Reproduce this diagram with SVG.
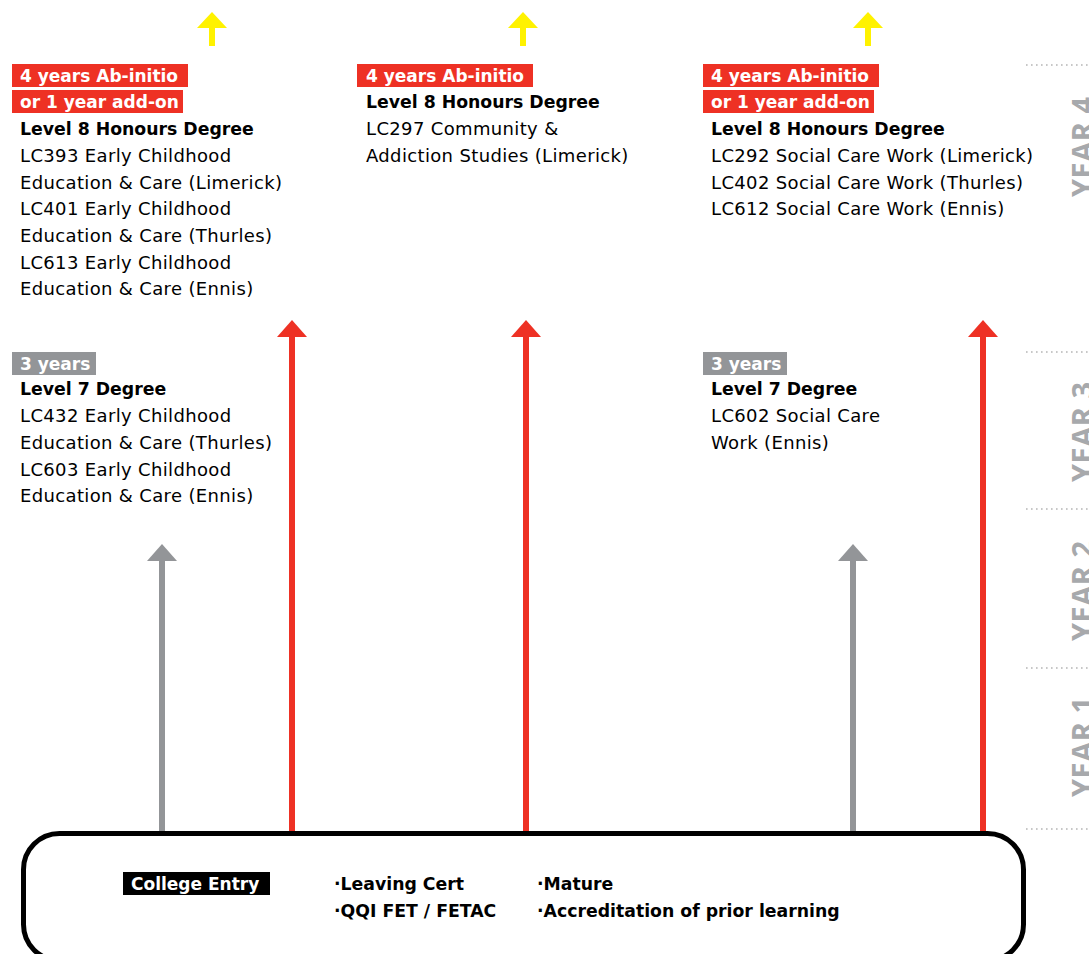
<svg xmlns="http://www.w3.org/2000/svg" width="1089" height="954" viewBox="0 0 1089 954">
<style>
  .txt { font-family: "DejaVu Sans", "Liberation Sans", sans-serif; font-size: 18px; letter-spacing: 0.35px; fill: #000; }
  .bold { font-family: "DejaVu Sans", "Liberation Sans", sans-serif; font-size: 17.3px; font-weight: bold; fill: #000; }
  .tagt { font-family: "DejaVu Sans", "Liberation Sans", sans-serif; font-size: 17px; font-weight: bold; fill: #fff; }
  .red { fill: #ee3124; }
  .grey { fill: #939598; }
  .year { font-family: "Open Sans", "DejaVu Sans", sans-serif; font-size: 29px; font-weight: bold; fill: #a7a9ac; letter-spacing: 0.5px; }
  .dots { stroke: #b5b5b5; stroke-width: 1.6; stroke-dasharray: 1.6 3.4; fill: none; }
  .shaft-red { stroke: #ee3124; stroke-width: 6; }
  .shaft-grey { stroke: #939598; stroke-width: 6; }
  .shaft-yel { stroke: #fff200; stroke-width: 6; }
</style>

<!-- year scale -->
<g id="year-scale">
  <line class="dots" x1="1026" y1="65" x2="1089" y2="65"/>
  <line class="dots" x1="1026" y1="352" x2="1089" y2="352"/>
  <line class="dots" x1="1026" y1="509" x2="1089" y2="509"/>
  <line class="dots" x1="1026" y1="668" x2="1089" y2="668"/>
  <line class="dots" x1="1026" y1="829" x2="1089" y2="829"/>
  <text class="year" transform="translate(1093,197) rotate(-90)">YEAR 4</text>
  <text class="year" transform="translate(1093,482) rotate(-90)">YEAR 3</text>
  <text class="year" transform="translate(1093,641) rotate(-90)">YEAR 2</text>
  <text class="year" transform="translate(1093,797) rotate(-90)">YEAR 1</text>
</g>

<!-- connectors -->
<g id="connectors">
  <!-- yellow arrows -->
  <line class="shaft-yel" x1="212" y1="26" x2="212" y2="46"/>
  <polygon fill="#fff200" points="212,12 227,28 197,28"/>
  <line class="shaft-yel" x1="523" y1="26" x2="523" y2="46"/>
  <polygon fill="#fff200" points="523,12 538,28 508,28"/>
  <line class="shaft-yel" x1="868" y1="26" x2="868" y2="46"/>
  <polygon fill="#fff200" points="868,12 883,28 853,28"/>
  <!-- red arrows -->
  <line class="shaft-red" x1="292" y1="334" x2="292" y2="834"/>
  <polygon class="red" points="292,320 307,337 277,337"/>
  <line class="shaft-red" x1="526" y1="334" x2="526" y2="834"/>
  <polygon class="red" points="526,320 541,337 511,337"/>
  <line class="shaft-red" x1="983" y1="334" x2="983" y2="834"/>
  <polygon class="red" points="983,320 998,337 968,337"/>
  <!-- grey arrows -->
  <line class="shaft-grey" x1="162" y1="558" x2="162" y2="834"/>
  <polygon class="grey" points="162,544 177,561 147,561"/>
  <line class="shaft-grey" x1="853" y1="558" x2="853" y2="834"/>
  <polygon class="grey" points="853,544 868,561 838,561"/>
</g>

<!-- Level 8 left -->
<g id="l8-ecec">
  <rect class="red" x="12" y="64" width="176" height="23"/>
  <text class="tagt" x="20" y="82">4 years Ab-initio</text>
  <rect class="red" x="12" y="90" width="171" height="23"/>
  <text class="tagt" x="20" y="108">or 1 year add-on</text>
  <text class="bold" x="20" y="135">Level 8 Honours Degree</text>
  <text class="txt" x="20" y="162">LC393 Early Childhood</text>
  <text class="txt" x="20" y="188.5">Education &amp; Care (Limerick)</text>
  <text class="txt" x="20" y="215">LC401 Early Childhood</text>
  <text class="txt" x="20" y="242">Education &amp; Care (Thurles)</text>
  <text class="txt" x="20" y="268.5">LC613 Early Childhood</text>
  <text class="txt" x="20" y="295">Education &amp; Care (Ennis)</text>
</g>

<!-- Level 8 middle -->
<g id="l8-community">
  <rect class="red" x="357" y="64" width="176" height="23"/>
  <text class="tagt" x="366" y="82">4 years Ab-initio</text>
  <text class="bold" x="366" y="108">Level 8 Honours Degree</text>
  <text class="txt" x="366" y="135">LC297 Community &amp;</text>
  <text class="txt" x="366" y="162">Addiction Studies (Limerick)</text>
</g>

<!-- Level 8 right -->
<g id="l8-social">
  <rect class="red" x="703" y="64" width="176" height="23"/>
  <text class="tagt" x="711" y="82">4 years Ab-initio</text>
  <rect class="red" x="703" y="90" width="171" height="23"/>
  <text class="tagt" x="711" y="108">or 1 year add-on</text>
  <text class="bold" x="711" y="135">Level 8 Honours Degree</text>
  <text class="txt" x="711" y="162">LC292 Social Care Work (Limerick)</text>
  <text class="txt" x="711" y="188.5">LC402 Social Care Work (Thurles)</text>
  <text class="txt" x="711" y="215">LC612 Social Care Work (Ennis)</text>
</g>

<!-- Level 7 left -->
<g id="l7-ecec">
  <rect class="grey" x="12" y="352" width="84" height="23"/>
  <text class="tagt" x="20" y="370">3 years</text>
  <text class="bold" x="20" y="395">Level 7 Degree</text>
  <text class="txt" x="20" y="422">LC432 Early Childhood</text>
  <text class="txt" x="20" y="449">Education &amp; Care (Thurles)</text>
  <text class="txt" x="20" y="475.5">LC603 Early Childhood</text>
  <text class="txt" x="20" y="502">Education &amp; Care (Ennis)</text>
</g>

<!-- Level 7 right -->
<g id="l7-social">
  <rect class="grey" x="703" y="352" width="84" height="23"/>
  <text class="tagt" x="711" y="370">3 years</text>
  <text class="bold" x="711" y="395">Level 7 Degree</text>
  <text class="txt" x="711" y="422">LC602 Social Care</text>
  <text class="txt" x="711" y="449">Work (Ennis)</text>
</g>

<!-- College entry -->
<g id="college-entry">
  <rect x="23.5" y="833.5" width="1000" height="127" rx="36" ry="36" fill="#fff" stroke="#000" stroke-width="5"/>
  <rect x="123" y="872" width="147" height="23" fill="#000"/>
  <text class="tagt" x="131" y="890">College Entry</text>
  <text class="bold" x="334" y="890">·Leaving Cert</text>
  <text class="bold" x="334" y="917">·QQI FET / FETAC</text>
  <text class="bold" x="537" y="890">·Mature</text>
  <text class="bold" x="537" y="917">·Accreditation of prior learning</text>
</g>
</svg>
